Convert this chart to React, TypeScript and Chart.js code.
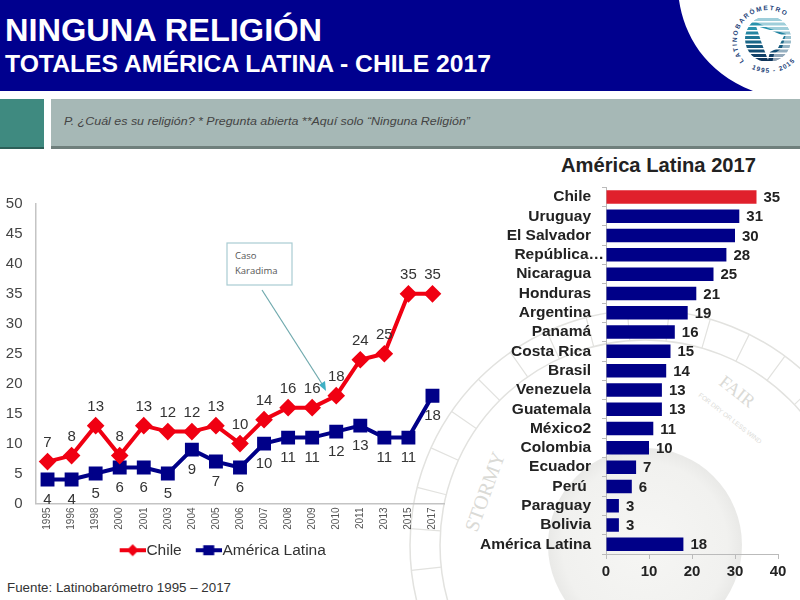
import { useEffect, useRef } from "react";
import { Chart, registerables } from "chart.js";

Chart.register(...registerables);

const years = ["1995", "1996", "1998", "2000", "2001", "2003", "2004", "2005", "2006", "2007", "2008", "2009", "2010", "2011", "2013", "2015", "2017"];
const chileValues = [7, 8, 13, 8, 13, 12, 12, 13, 10, 14, 16, 16, 18, 24, 25, 35, 35];
const latamValues = [4, 4, 5, 6, 6, 5, 9, 7, 6, 10, 11, 11, 12, 13, 11, 11, 18];

const countries = ["Chile", "Uruguay", "El Salvador", "República…", "Nicaragua", "Honduras", "Argentina", "Panamá", "Costa Rica", "Brasil", "Venezuela", "Guatemala", "México2", "Colombia", "Ecuador", "Perú ", "Paraguay", "Bolivia", "América Latina"];
const countryValues = [35, 31, 30, 28, 25, 21, 19, 16, 15, 14, 13, 13, 11, 10, 7, 6, 3, 3, 18];

const FONT = "'Liberation Sans', Arial, sans-serif";
const RED = "#f00012";
const NAVY = "#000088";

// value labels above / below the line points
const lineLabels = {
  id: "lineLabels",
  afterDatasetsDraw(chart: any) {
    const ctx = chart.ctx;
    ctx.save();
    ctx.font = `15px ${FONT}`;
    ctx.fillStyle = "#333";
    ctx.textAlign = "center";
    ctx.textBaseline = "middle";
    chart.data.datasets.forEach((ds: any, i: number) => {
      const dy = i === 0 ? -19 : 20;
      chart.getDatasetMeta(i).data.forEach((pt: any, j: number) => {
        ctx.fillText(String(ds.data[j]), pt.x, pt.y + dy);
      });
    });
    ctx.restore();
  },
};

const barLabels = {
  id: "barLabels",
  afterDatasetsDraw(chart: any) {
    const ctx = chart.ctx;
    ctx.save();
    ctx.font = `bold 15px ${FONT}`;
    ctx.fillStyle = "#222";
    ctx.textAlign = "left";
    ctx.textBaseline = "middle";
    chart.getDatasetMeta(0).data.forEach((bar: any, j: number) => {
      ctx.fillText(String(countryValues[j]), bar.x + 7, bar.y + 1);
    });
    ctx.restore();
  },
};

// line-and-marker swatch; the drawing sits to the right so it runs up to the legend text
function legendMark(color: string, shape: "diamond" | "square") {
  const c = document.createElement("canvas");
  c.width = 34;
  c.height = 16;
  const g = c.getContext("2d")!;
  g.fillStyle = color;
  g.fillRect(8, 6, 26, 4);
  if (shape === "diamond") {
    g.beginPath();
    g.moveTo(21, 2);
    g.lineTo(27, 8);
    g.lineTo(21, 14);
    g.lineTo(15, 8);
    g.closePath();
    g.fill();
  } else {
    g.fillRect(15.5, 3, 11, 10);
  }
  return c;
}

function LineChart() {
  const ref = useRef<HTMLCanvasElement>(null);
  useEffect(() => {
    const marks = [legendMark(RED, "diamond"), legendMark(NAVY, "square")];
    const chart = new Chart(ref.current!, {
      type: "line",
      data: {
        labels: years,
        datasets: [
          { label: "Chile", data: chileValues, borderColor: RED, backgroundColor: RED, borderWidth: 4, pointStyle: "rectRot", pointRadius: 6, tension: 0 },
          { label: "América Latina", data: latamValues, borderColor: NAVY, backgroundColor: NAVY, borderWidth: 4, pointStyle: "rect", pointRadius: 7, tension: 0 },
        ],
      },
      options: {
        responsive: false,
        animation: false,
        layout: { padding: { top: 8, left: 0, right: 31.5 } },
        plugins: {
          tooltip: { enabled: false },
          legend: {
            position: "bottom",
            labels: {
              usePointStyle: true,
              pointStyleWidth: 20,
              padding: 13,
              color: "#333",
              font: { family: FONT, size: 15.5 },
              generateLabels: (c: any) =>
                (Chart.defaults.plugins.legend.labels as any).generateLabels(c).map((l: any, i: number) => ({ ...l, pointStyle: marks[i], fontColor: "#333" })),
            },
          },
        },
        scales: {
          x: {
            offset: true,
            afterFit: (a: any) => { a.height = 26; },
            grid: { display: false, drawTicks: false },
            border: { color: "#c4c4c4", width: 1.5 },
            ticks: { autoSkip: false, minRotation: 90, maxRotation: 90, padding: 4, color: "#555", font: { family: FONT, size: 10 } },
          },
          y: {
            min: 0,
            max: 50,
            afterFit: (a: any) => { a.width = 35.5; },
            grid: { display: false },
            border: { color: "#c4c4c4", width: 1.5 },
            ticks: { stepSize: 5, padding: 5, color: "#444", font: { family: FONT, size: 15 } },
          },
        },
      },
      plugins: [lineLabels],
    } as any);
    return () => chart.destroy();
  }, []);
  return <canvas ref={ref} width={476} height={378} style={{ position: "absolute", left: 0, top: 190 }} />;
}

function BarChart() {
  const ref = useRef<HTMLCanvasElement>(null);
  useEffect(() => {
    const chart = new Chart(ref.current!, {
      type: "bar",
      data: {
        labels: countries,
        datasets: [
          {
            label: "2017",
            data: countryValues,
            backgroundColor: countries.map((c) => (c === "Chile" ? "#e0202c" : NAVY)),
            barPercentage: 0.7,
            categoryPercentage: 1,
          },
        ],
      },
      options: {
        indexAxis: "y",
        responsive: false,
        animation: false,
        layout: { padding: { top: 7, right: 22 } },
        plugins: { legend: { display: false }, tooltip: { enabled: false } },
        scales: {
          x: {
            min: 0,
            max: 40,
            afterFit: (a: any) => { a.height = 36; },
            grid: { drawOnChartArea: false, color: "#bbb", tickLength: 5 },
            border: { color: "#bbb" },
            ticks: { stepSize: 10, padding: 4, color: "#222", font: { family: FONT, size: 15, weight: "bold" } },
          },
          y: {
            afterFit: (a: any) => { a.width = 136; },
            grid: { drawOnChartArea: false, color: "#bbb", tickLength: 4 },
            border: { color: "#bbb" },
            ticks: {
              autoSkip: false,
              padding: -2,
              color: "#222",
              font: { family: FONT, size: 15.5, weight: "bold" },
              callback: (_: any, i: number) => (countries[i].endsWith("…") ? countries[i] : countries[i] + "   "),
            },
          },
        },
      },
      plugins: [barLabels],
    } as any);
    return () => chart.destroy();
  }, []);
  return <canvas ref={ref} width={330} height={410} style={{ position: "absolute", left: 470, top: 180 }} />;
}

// faint barometer dial behind the charts
function Watermark() {
  const stroke = "#e2e2df";
  const serif = "'Liberation Serif', serif";
  return (
    <svg width={800} height={600} style={{ position: "absolute", left: 0, top: 0 }}>
      <defs>
        <radialGradient id="globe" cx="50%" cy="50%" r="50%">
          <stop offset="0%" stopColor="#f6f6f4" />
          <stop offset="85%" stopColor="#f1f1ef" />
          <stop offset="100%" stopColor="#e9e9e7" />
        </radialGradient>
      </defs>
      <circle cx={645} cy={545} r={235} fill="none" stroke={stroke} strokeWidth={1.5} />
      <circle cx={645} cy={545} r={205} fill="none" stroke={stroke} strokeWidth={1.5} />
      <circle cx={645} cy={545} r={220} fill="none" stroke={stroke} strokeWidth={30} strokeDasharray="1.2 38" />
      <circle cx={645} cy={545} r={97} fill="url(#globe)" />
      <text fontFamily={serif} fontSize={18} fill="#dadad6" transform="translate(718 384) rotate(38)">FAIR</text>
      <text fontFamily={serif} fontSize={20} fill="#dadad6" transform="translate(477 533) rotate(-70)">STORMY</text>
      <text fontFamily={FONT} fontSize={6.5} fill="#dcdcd8" transform="translate(698 396) rotate(38)">FOR DRY OR LESS WIND</text>
    </svg>
  );
}

function Header() {
  const logoStripes = [18, 22.5, 27, 31.5, 36, 40.5, 45, 49.5, 54, 58];
  const stripeColors = ["#2a93ad", "#2a93ad", "#2a93ad", "#2585a2", "#1f7796", "#1b6788", "#175a7e", "#134c72", "#103f66", "#0d345a"];
  return (
    <svg width={800} height={600} style={{ position: "absolute", left: 0, top: 0 }}>
      <path d="M0 0 H679 C684 34 704 72 753 91 H0 Z" fill="#00008e" />
      <text x={5} y={41} fill="#fff" fontFamily={FONT} fontWeight="bold" fontSize={32} textLength={317} lengthAdjust="spacingAndGlyphs">NINGUNA RELIGIÓN</text>
      <text x={5} y={72} fill="#fff" fontFamily={FONT} fontWeight="bold" fontSize={24} textLength={486} lengthAdjust="spacingAndGlyphs">TOTALES AMÉRICA LATINA - CHILE 2017</text>

      <defs>
        <path id="logoRing" d="M 744 61 A 31 31 0 1 1 798 48" />
        <path id="logoRingLow" d="M 741 60 A 36 36 0 0 0 796 60" />
        <clipPath id="logoClip"><circle cx={768} cy={39} r={23} /></clipPath>
      </defs>
      <text fontFamily={FONT} fontSize={6.5} fontWeight="bold" fill="#1c3f78" letterSpacing={1.6}>
        <textPath href="#logoRing">LATINOBARÓMETRO</textPath>
      </text>
      <text fontFamily={FONT} fontSize={6.5} fontWeight="bold" fill="#1c3f78" letterSpacing={1.2}>
        <textPath href="#logoRingLow" startOffset="22%">1995 - 2015</textPath>
      </text>
      <g clipPath="url(#logoClip)">
        {logoStripes.map((y, i) => (
          <rect key={y} x={744} y={y} width={50} height={3} fill={stripeColors[i]} />
        ))}
        <path d="M752 20 L768 28 L786 34 L782 48 L774 54 L772 64 L794 64 L794 14 L752 14 Z" fill="#fff" opacity={0.55} />
        <path d="M756 26 L770 30 L784 36 L778 48 L770 52 L768 60 L762 44 Z" fill="#fff" />
      </g>

      <rect x={0} y={99} width={44} height={50} fill="#3f8a80" />
      <rect x={0} y={147} width={44} height={2} fill="#2c5f58" />
      <rect x={51} y={99} width={749} height={50} fill="#a6b8b6" />
      <rect x={51} y={146} width={749} height={3} fill="#6f7f7c" />
      <text x={64} y={125} fill="#444" fontFamily={FONT} fontStyle="italic" fontSize={11} textLength={406} lengthAdjust="spacingAndGlyphs">P. ¿Cuál es su religión? * Pregunta abierta **Aquí solo “Ninguna Religión”</text>

      <text x={561} y={172} fill="#222" fontFamily={FONT} fontWeight="bold" fontSize={20} textLength={195} lengthAdjust="spacingAndGlyphs">América Latina 2017</text>
      <text x={7} y={592} fill="#333" fontFamily={FONT} fontSize={13} textLength={224} lengthAdjust="spacingAndGlyphs">Fuente: Latinobarómetro 1995 – 2017</text>
    </svg>
  );
}

// "Caso Karadima" callout over the line chart
function Callout() {
  return (
    <svg width={800} height={600} style={{ position: "absolute", left: 0, top: 0, pointerEvents: "none" }}>
      <rect x={227} y={243} width={65} height={42} fill="#fff" stroke="#a9ccd2" strokeWidth={1.2} />
      <text x={235} y={259} fill="#555" fontFamily="'Open Sans', sans-serif" fontSize={9.5}>Caso</text>
      <text x={235} y={274} fill="#555" fontFamily="'Open Sans', sans-serif" fontSize={9.5}>Karadima</text>
      <line x1={262} y1={290} x2={324} y2={387} stroke="#6fa9ad" strokeWidth={1.2} />
      <path d="M326 391 L319 385 L325 381 Z" fill="#3fb0c4" />
    </svg>
  );
}

export default function App() {
  return (
    <div style={{ position: "absolute", left: 0, top: 0, width: 800, height: 600, overflow: "hidden", background: "#fff" }}>
      <Watermark />
      <Header />
      <LineChart />
      <BarChart />
      <Callout />
    </div>
  );
}
